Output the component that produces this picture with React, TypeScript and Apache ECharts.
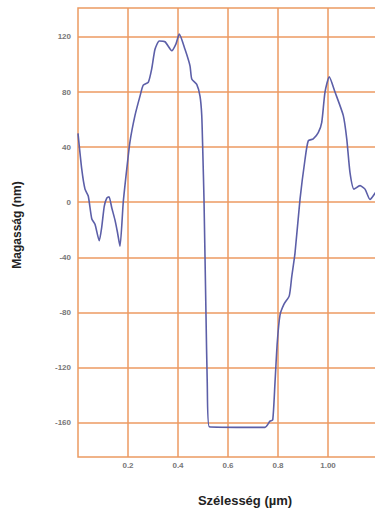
import React, { useEffect, useRef } from "react";
import * as echarts from "echarts";

const widthUm = [0, 0.015, 0.028, 0.041, 0.055, 0.068, 0.085, 0.095, 0.105, 0.115, 0.124, 0.135, 0.148, 0.158, 0.168, 0.181, 0.195, 0.208, 0.228, 0.248, 0.261, 0.281, 0.295, 0.308, 0.325, 0.348, 0.375, 0.392, 0.405, 0.428, 0.448, 0.455, 0.475, 0.488, 0.495, 0.499, 0.504, 0.512, 0.517, 0.525, 0.748, 0.768, 0.779, 0.788, 0.797, 0.808, 0.824, 0.845, 0.855, 0.868, 0.888, 0.908, 0.921, 0.941, 0.961, 0.975, 0.988, 1.005, 1.028, 1.061, 1.075, 1.088, 1.104, 1.128, 1.148, 1.168, 1.19];
const heightNm = [50, 24, 9.5, 4.5, -12, -16, -28, -18, -3, 3, 4, -4, -13, -22, -32, 0, 24, 44, 63, 77, 85, 87, 97, 111, 117, 116.5, 110, 115, 122, 111, 99, 89.5, 85.5, 77, 63, 38, 2, -82, -131, -163, -163.5, -159, -158, -131, -102, -82, -74, -68, -54, -37, 2, 31, 44.5, 46, 50.5, 58, 80, 91, 80, 63, 46, 21.5, 9.5, 12, 9.5, 2, 7];
const xTicks = [0.2, 0.4, 0.6, 0.8, 1.0];
const yTicks = [-160, -120, -80, -40, 0, 40, 80, 120];
const xTitle = "Szélesség (µm)";
const yTitle = "Magasság (nm)";

const GRID = "#ec9a62";
const FONT = "Liberation Sans, Arial, sans-serif";

export default function App() {
  const ref = useRef<HTMLDivElement>(null);
  useEffect(() => {
    if (!ref.current) return;
    const chart = echarts.init(ref.current, undefined, { renderer: "svg" });
    chart.setOption({
      animation: false,
      backgroundColor: "#ffffff",
      grid: {
        left: 78,
        right: -3,
        top: 8,
        bottom: 55,
        containLabel: false,
        outerBoundsMode: "none",
        show: true,
        borderColor: GRID,
        borderWidth: 1.5,
        backgroundColor: "transparent",
      },
      xAxis: {
        type: "value",
        min: 0,
        max: 1.2,
        axisLine: { show: false },
        axisTick: { show: false, customValues: xTicks },
        axisLabel: {
          customValues: xTicks,
          formatter: (v: number) => (Math.abs(v - 1) < 1e-6 ? "1.00" : v.toFixed(1)),
          color: "#777",
          fontSize: 8,
          fontWeight: "bold",
          fontFamily: FONT,
          margin: 4,
        },
        splitLine: { show: true, lineStyle: { color: GRID, width: 1.5 } },
      },
      yAxis: {
        type: "value",
        min: -185,
        max: 141,
        axisLine: { show: false },
        axisTick: { show: false, customValues: yTicks },
        axisLabel: {
          customValues: yTicks,
          color: "#777",
          fontSize: 8,
          fontWeight: "bold",
          fontFamily: FONT,
          margin: 7,
        },
        splitLine: { show: true, lineStyle: { color: GRID, width: 1.5 } },
      },
      graphic: [
        {
          type: "text",
          x: 245,
          y: 500,
          style: {
            text: xTitle,
            fill: "#222",
            fontSize: 13,
            fontWeight: "bold",
            fontFamily: FONT,
            textAlign: "center",
            textVerticalAlign: "middle",
          },
        },
        {
          type: "text",
          x: 17,
          y: 225,
          rotation: Math.PI / 2,
          style: {
            text: yTitle,
            fill: "#222",
            fontSize: 12,
            fontWeight: "bold",
            fontFamily: FONT,
            textAlign: "center",
            textVerticalAlign: "middle",
          },
        },
      ],
      series: [
        {
          type: "line",
          data: widthUm.map((x, i) => [x, heightNm[i]]),
          showSymbol: false,
          smooth: 0.2,
          lineStyle: { color: "#5c5fa8", width: 1.6 },
          clip: true,
        },
      ],
    });
    return () => chart.dispose();
  }, []);
  return (
    <div
      ref={ref}
      style={{ position: "fixed", left: 0, top: 0, width: 375, height: 512 }}
    />
  );
}
